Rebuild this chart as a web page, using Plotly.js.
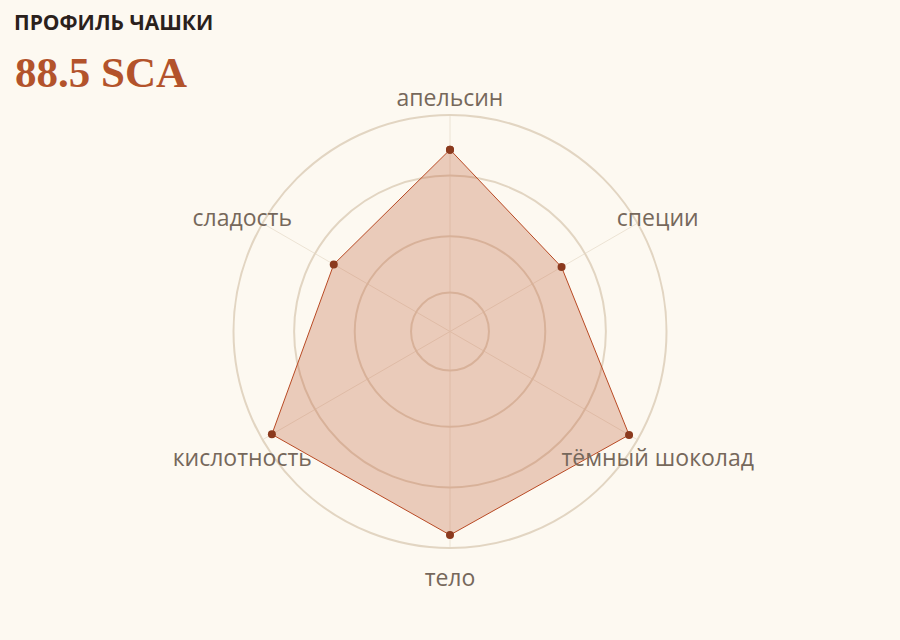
<!DOCTYPE html>
<html>
<head>
    <meta charset='utf-8'>
    <title>Профиль чашки</title>
    <script src="https://cdn.plot.ly/plotly-3.0.1.min.js"></script>
    <style>
        body { margin: 0; background: #fdf9f1; }
    </style>
</head>
<body>
    <div style="width:900px;height:640px" id="chartDiv"></div>

    <script>
        const notes = ["апельсин", "специи", "тёмный шоколад", "тело", "кислотность", "сладость"];
        const scores = [8.4, 5.95, 9.55, 9.4, 9.5, 6.2];
        const gridVals = [1.8, 4.4, 7.2];
        const totalScore = "88.5 SCA";

        const maxScore = 10;

        // paper area: 740 x 541 px, main ring 433 px tall inside it
        const M = { l : 80, r : 80, t : 70, b : 29 };
        const paperH = 640 - M.t - M.b;
        const ringTop = 115, ringBottom = 548;
        const ringDomain = [(640 - M.b - ringBottom)/paperH, (640 - M.b - ringTop)/paperH];
        // label layer covers whole paper height, same scale per px as the ring
        const labelMax = maxScore * paperH / (ringBottom - ringTop);
        const labelR = notes.map(() => maxScore * 1.108);

        const chartDiv = document.getElementById("chartDiv");

        const profile = {
            type : 'scatterpolar',
            subplot : 'polar',
            r : scores.concat([scores[0]]),
            theta : notes.concat([notes[0]]),
            mode : 'lines+markers',
            fill : 'toself',
            fillcolor : 'rgba(192,96,58,0.3)',
            line : { color : '#b84a24', width : 1 },
            marker : { color : '#8b3a1e', size : 8 },
            hoverinfo : 'skip',
            showlegend : false,
        };

        const labels = {
            type : 'scatterpolar',
            subplot : 'polar2',
            r : labelR,
            theta : notes,
            mode : 'text',
            text : notes,
            textposition : 'middle center',
            textfont : { family : '"Open Sans", sans-serif', size : 23, color : '#76685b' },
            hoverinfo : 'skip',
            showlegend : false,
        };

        const hiddenAxis = {
            showgrid : false, showline : false, showticklabels : false, ticks : '',
        };

        const layout = {
            width : 900,
            height : 640,
            paper_bgcolor : '#fdf9f1',
            plot_bgcolor : '#fdf9f1',
            margin : M,
            font : { family : '"Open Sans", "Noto Sans", sans-serif', color : '#76685b' },
            title : {
                text : 'ПРОФИЛЬ ЧАШКИ',
                font : { family : '"Open Sans", sans-serif', size : 21, color : '#2b211c', weight : 'bold' },
                xref : 'container', x : 14/900, xanchor : 'left',
                yref : 'container', y : 1 - 23/640, yanchor : 'middle',
            },
            annotations : [{
                text : totalScore,
                xref : 'paper', yref : 'paper',
                x : (13 - M.l)/(900 - M.l - M.r), xanchor : 'left',
                y : (640 - M.b - 73)/paperH, yanchor : 'middle',
                showarrow : false,
                font : { family : '"Liberation Serif", serif', size : 43, color : '#b3532b', weight : 'bold' },
            }],
            polar : {
                bgcolor : 'rgba(0,0,0,0)',
                domain : { x : [0, 1], y : ringDomain },
                radialaxis : {
                    range : [0, maxScore],
                    tickvals : gridVals,
                    showticklabels : false,
                    ticks : '',
                    showline : false,
                    gridcolor : '#e2d5c2',
                    gridwidth : 2,
                    layer : 'below traces',
                },
                angularaxis : {
                    rotation : 90,
                    direction : 'clockwise',
                    showline : true,
                    linecolor : '#e2d5c2',
                    linewidth : 2,
                    ticks : '',
                    showticklabels : false,
                    gridcolor : '#ece3d4',
                    gridwidth : 1,
                    layer : 'below traces',
                },
            },
            polar2 : {
                bgcolor : 'rgba(0,0,0,0)',
                domain : { x : [0, 1], y : [0, 1] },
                radialaxis : Object.assign({ range : [0, labelMax] }, hiddenAxis),
                angularaxis : Object.assign({ rotation : 90, direction : 'clockwise' }, hiddenAxis),
            },
        };

        Plotly.newPlot(chartDiv, [profile, labels], layout, { displayModeBar : false, staticPlot : true });
    </script>
</body>
</html>
